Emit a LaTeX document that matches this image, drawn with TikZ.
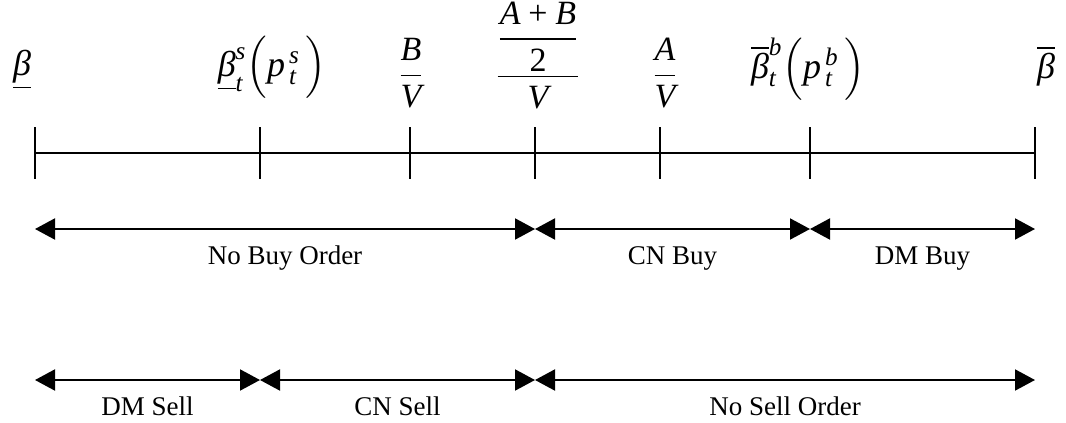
\documentclass[tikz,border=0pt]{standalone}
\usepackage{amsmath}
\usepackage{fontspec}
\setmainfont{Liberation Serif}
\usetikzlibrary{arrows.meta}
\newcommand{\vi}[1]{\text{\itshape #1}}
\newcommand{\vr}[1]{\text{\upshape #1}}
\begin{document}
\begin{tikzpicture}[x=0.5pt,y=-0.5pt,
  axisline/.style={line width=1pt},
  dbl/.style={line width=1pt,{Triangle[length=10pt,width=10.5pt]}-{Triangle[length=10pt,width=10.5pt]}},
  lbl/.style={font=\fontsize{13.5}{16}\selectfont,anchor=base,yshift=-17.5pt,inner sep=0pt},
  mth/.style={font=\fontsize{17}{20}\selectfont,anchor=base,inner sep=0pt},
  mthb/.style={font=\fontsize{18}{21}\selectfont,anchor=base,inner sep=0pt}]
\useasboundingbox (0,0) rectangle (1066,423);
% axis
\coordinate (k1) at (35,153);
\coordinate (k2) at (260,153);
\coordinate (k3) at (410,153);
\coordinate (k4) at (535,153);
\coordinate (k5) at (660,153);
\coordinate (k6) at (810,153);
\coordinate (k7) at (1035,153);
\draw[axisline] (k1) -- (k7);
\foreach \k in {1,...,7} \draw[axisline] (k\k) ++(0,-26) -- ++(0,52);
% labels above axis
\node[mthb] (lo) at (22,75) {$\underline{\vi{β}}$};
\node[mthb] (ls) at (272,76) {$\underline{\vi{β}}_{\vi{t}}^{\vi{s}}\Bigl({\vi{p}\mkern2mu}_{\vi{t}}^{\vi{s}}\,\Bigr)$};
\node[mth] (bv) at (411,84) {$\dfrac{\vi{B}}{\vi{V}}$};
\node[mth] (mid) at (538,85) {$\dfrac{\dfrac{\vi{A}\mathbin{\vr{+}}\vi{B}}{\vr{2}}}{\vi{V}}$};
\node[mth] (av) at (665,84) {$\dfrac{\vi{A}}{\vi{V}}$};
\node[mthb] (hs) at (808,78) {$\overline{\vi{β}}_{\vi{t}}^{\vi{b}}\Bigl({\vi{p}\mkern2mu}_{\vi{t}}^{\vi{b}}\,\Bigr)$};
\node[mthb] (hi) at (1046,78) {$\overline{\vi{β}}$};
% buy arrows
\coordinate (a1) at (35,229);
\coordinate (a2) at (535,229);
\coordinate (a3) at (810,229);
\coordinate (a4) at (1035,229);
\draw[dbl] (a1) -- node[lbl] (nbo) {No Buy Order} (a2);
\draw[dbl] (a2) -- node[lbl] (cnb) {CN Buy} (a3);
\draw[dbl] (a3) -- node[lbl] (dmb) {DM Buy} (a4);
% sell arrows
\coordinate (b1) at (35,380);
\coordinate (b2) at (260,380);
\coordinate (b3) at (535,380);
\coordinate (b4) at (1035,380);
\draw[dbl] (b1) -- node[lbl] (dms) {DM Sell} (b2);
\draw[dbl] (b2) -- node[lbl] (cns) {CN Sell} (b3);
\draw[dbl] (b3) -- node[lbl] (nso) {No Sell Order} (b4);
\end{tikzpicture}
\end{document}
